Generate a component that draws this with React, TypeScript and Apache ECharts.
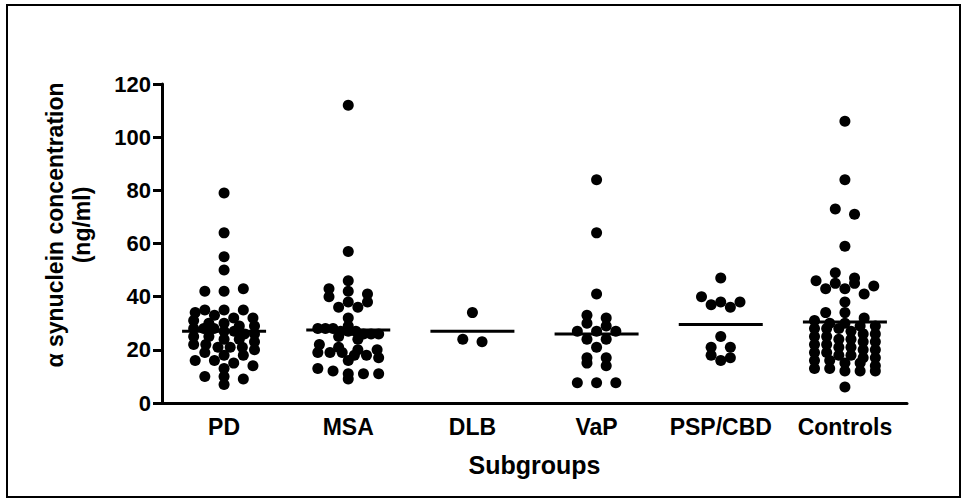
import React, { useEffect, useRef } from "react";
import * as echarts from "echarts";

const categories = ["PD", "MSA", "DLB", "VaP", "PSP/CBD", "Controls"];

const pdValues = [79, 64, 55, 50, 42, 42, 43, 35, 35, 35, 34, 33, 32, 32, 31, 30, 30, 29, 29, 28, 28, 28, 27, 27, 26, 26, 25, 25, 24, 24, 23, 22, 22, 21, 21, 21, 20, 19, 18, 18, 16, 16, 15, 14, 13, 10, 10, 9, 7];
const msaValues = [112, 57, 46, 43, 42, 41, 40, 38, 38, 36, 36, 32, 29, 28, 28, 28, 27, 27, 27, 26, 26, 26, 25, 24, 22, 21, 20, 20, 19, 19, 19, 18, 18, 17, 16, 13, 12, 11, 11, 11, 9];
const dlbValues = [34, 24, 23];
const vapValues = [84, 64, 41, 33, 32, 30, 29, 27, 27, 27, 24, 24, 21, 17, 17, 15, 14, 7.6, 7.6, 7.6];
const pspValues = [47, 40, 38, 38, 37, 36, 25, 21, 21, 18, 17, 16];
const controlValues = [106, 84, 73, 71, 59, 49, 47, 46, 45, 45, 44, 43, 43, 41, 38, 34, 34, 32, 31, 30, 30, 29, 29, 28, 28, 28, 27, 26, 26, 25, 25, 24, 24, 23, 23, 22, 22, 21, 21, 20, 20, 19, 19, 18, 18, 17, 17, 16, 16, 15, 15, 14, 13, 13, 12, 12, 12, 6];

const groupValues = [pdValues, msaValues, dlbValues, vapValues, pspValues, controlValues];
const meanLines = [27, 27.5, 27, 26, 29.5, 30.5];

const yMin = 0;
const yMax = 120;
const yInterval = 20;

// deterministic dot-plot layout: values in the same bin are spread in a row
const BIN = 3;
const BIN_SHIFT = 1;
const MAX_SPACING = 0.155;
const HALF_WIDTH = 0.245;

function swarm(values: number[], index: number): number[][] {
  const bins = new Map<number, number[]>();
  values.forEach((v) => {
    const k = Math.floor((v + BIN_SHIFT) / BIN);
    if (!bins.has(k)) bins.set(k, []);
    bins.get(k)!.push(v);
  });
  const out: number[][] = [];
  bins.forEach((list) => {
    const n = list.length;
    const sp = n > 1 ? Math.min(MAX_SPACING, (2 * HALF_WIDTH) / (n - 1)) : 0;
    list.forEach((v, i) => {
      out.push([index + (i - (n - 1) / 2) * sp, v]);
    });
  });
  return out;
}

const FONT = 'Arial, "Liberation Sans", sans-serif';

export default function App() {
  const ref = useRef<HTMLDivElement>(null);
  useEffect(() => {
    document.body.style.margin = "0";
    const chart = echarts.init(ref.current!, null, { renderer: "svg" });
    const dots: number[][] = [];
    groupValues.forEach((vals, i) => dots.push(...swarm(vals, i)));
    chart.setOption({
      animation: false,
      backgroundColor: "#fff",
      grid: { left: 162, right: 60, top: 84, bottom: 101, containLabel: false },
      xAxis: [
        {
          type: "category",
          data: categories,
          boundaryGap: true,
          name: "Subgroups",
          nameLocation: "middle",
          nameGap: 49,
          nameTextStyle: { fontFamily: FONT, fontWeight: "bold", fontSize: 25, color: "#000" },
          axisLine: { onZero: false, lineStyle: { color: "#000", width: 3 } },
          axisTick: { alignWithLabel: true, length: 10, lineStyle: { color: "#000", width: 3 } },
          axisLabel: { fontFamily: FONT, fontWeight: "bold", fontSize: 23, color: "#000", margin: 12, interval: 0 },
          splitLine: { show: false },
        },
        { type: "value", min: -0.5, max: 5.5, show: false },
      ],
      yAxis: {
        type: "value",
        min: yMin,
        max: yMax,
        interval: yInterval,
        axisLine: { show: true, onZero: false, lineStyle: { color: "#000", width: 3 } },
        axisTick: { show: true, length: 9, lineStyle: { color: "#000", width: 3 } },
        axisLabel: { fontFamily: FONT, fontWeight: "bold", fontSize: 22, color: "#000", margin: 11 },
        splitLine: { show: false },
      },
      graphic: [
        {
          type: "rect",
          shape: { x: 7, y: 5, width: 953, height: 492 },
          style: { fill: "none", stroke: "#000", lineWidth: 2 },
          silent: true,
        },
        {
          type: "text",
          x: 68,
          y: 225,
          rotation: Math.PI / 2,
          style: {
            text: "α synuclein concentration\n(ng/ml)",
            font: `bold 23px ${FONT}`,
            fill: "#000",
            textAlign: "center",
            textVerticalAlign: "middle",
            lineHeight: 27,
          },
        },
      ],
      series: [
        {
          type: "scatter",
          xAxisIndex: 1,
          data: dots,
          symbol: "circle",
          symbolSize: 11,
          itemStyle: { color: "#000", opacity: 1 },
          z: 3,
        },
        {
          type: "scatter",
          xAxisIndex: 1,
          data: meanLines.map((v, i) => [i, v]),
          symbol: "rect",
          symbolSize: [84, 3],
          itemStyle: { color: "#000", opacity: 1 },
          z: 4,
        },
      ],
    });
    return () => chart.dispose();
  }, []);
  return <div ref={ref} style={{ width: 967, height: 504 }} />;
}
